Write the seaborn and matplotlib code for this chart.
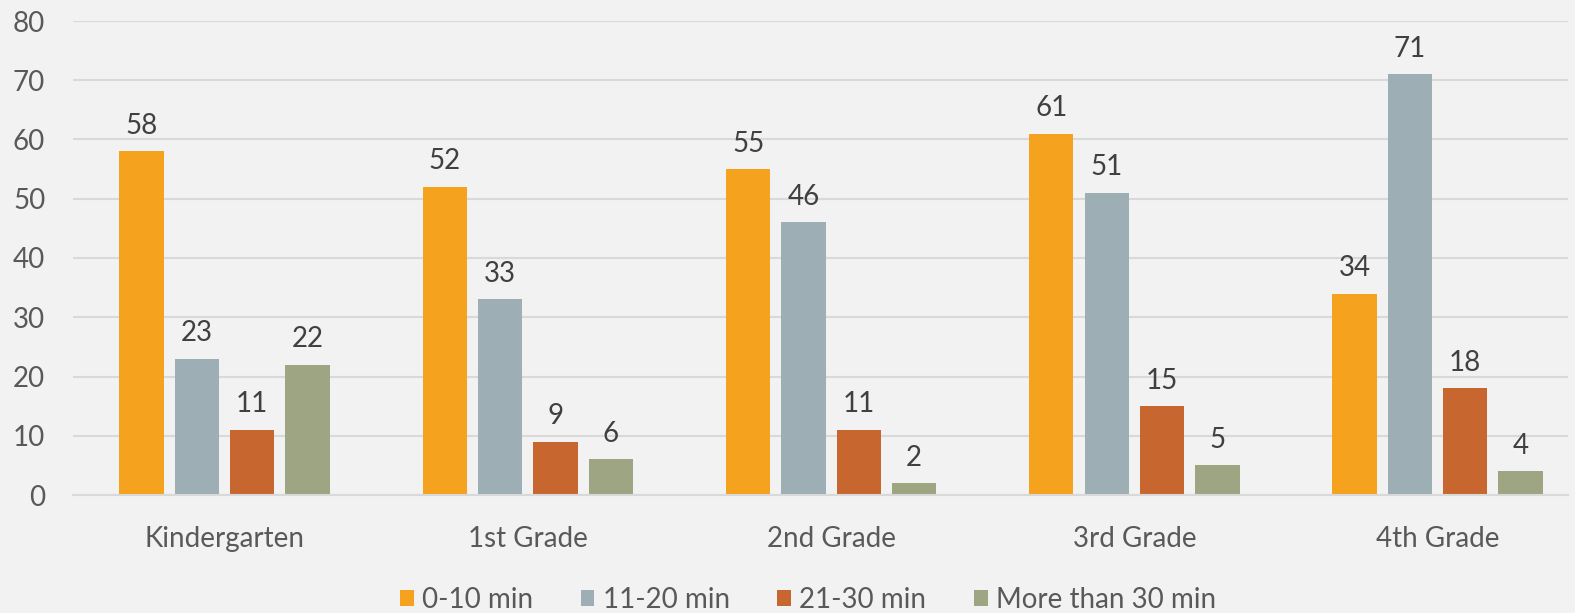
import pandas as pd
import seaborn as sns
import matplotlib.pyplot as plt

grades = ['Kindergarten', '1st Grade', '2nd Grade', '3rd Grade', '4th Grade']
series = ['0-10 min', '11-20 min', '21-30 min', 'More than 30 min']
min_0_10 = [58, 52, 55, 61, 34]
min_11_20 = [23, 33, 46, 51, 71]
min_21_30 = [11, 9, 11, 15, 18]
min_30_plus = [22, 6, 2, 5, 4]
colors = ['#F5A31E', '#9DAFB4', '#C8662F', '#9DA582']

rows = []
for name, vals in zip(series, [min_0_10, min_11_20, min_21_30, min_30_plus]):
    for g, v in zip(grades, vals):
        rows.append({'Grade': g, 'Time': name, 'Count': v})
df = pd.DataFrame(rows)

sns.set_theme(style='white')
plt.rcParams['font.family'] = ['Lato', 'DejaVu Sans']

fig = plt.figure(figsize=(15.75, 6.13), dpi=100, facecolor='#F2F2F2')
ax = fig.add_axes([73 / 1575, (613 - 495) / 613, (1568 - 73) / 1575, (495 - 21) / 613])
ax.set_facecolor('#F2F2F2')

sns.barplot(data=df, x='Grade', y='Count', hue='Time', hue_order=series,
            palette=colors, width=0.73, gap=0.2, saturation=1,
            edgecolor='none', linewidth=0, ax=ax)

for c in ax.containers:
    ax.bar_label(c, padding=9, fontsize=20, color='#404040')

ax.set_ylim(0, 80)
ax.set_xlim(-0.5, 4.43)
ax.set_yticks(range(0, 81, 10))
ax.yaxis.grid(True, color='#D9D9D9', linewidth=1.5)
ax.set_axisbelow(True)
for s in ['top', 'right', 'left']:
    ax.spines[s].set_visible(False)
ax.spines['bottom'].set_color('#D9D9D9')
ax.spines['bottom'].set_linewidth(1.5)
ax.tick_params(axis='y', labelsize=20, labelcolor='#595959', length=0, pad=20)
ax.tick_params(axis='x', labelsize=20, labelcolor='#595959', length=0, pad=22)
ax.set_xlabel('')
ax.set_ylabel('')

handles, labels = ax.get_legend_handles_labels()
ax.get_legend().remove()
fig.legend(handles, labels, loc='lower center', bbox_to_anchor=(808 / 1575, -0.04),
           ncol=4, frameon=False, fontsize=20, labelcolor='#595959',
           handlelength=0.5, handleheight=0.5, handletextpad=0.3, columnspacing=1.7)

fig.savefig('out.png', dpi=100, facecolor='#F2F2F2')
